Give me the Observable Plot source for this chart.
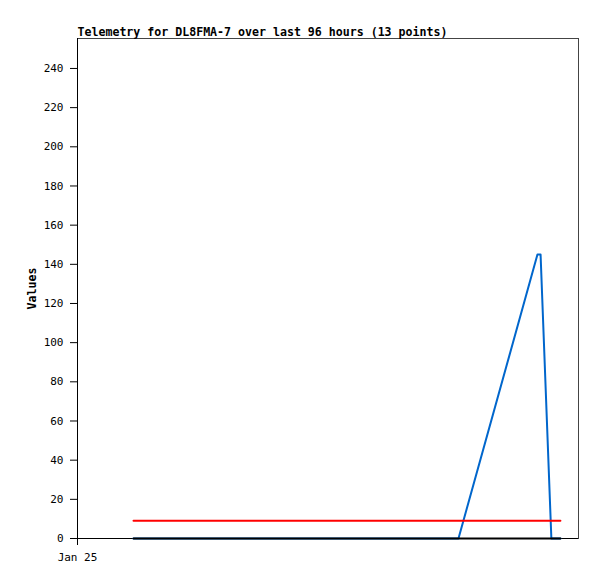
<!DOCTYPE html>
<html><head><meta charset="utf-8">
<script src="https://cdn.jsdelivr.net/npm/d3@7"></script>
<script src="https://cdn.jsdelivr.net/npm/@observablehq/plot@0.6"></script>
<style>body{margin:0;background:#fff}</style>
</head><body><div id="chart"></div>
<script>
const title = "Telemetry for DL8FMA-7 over last 96 hours (13 points)";
const yLabel = "Values";
const times = ["2025-01-25T02:41","2025-01-25T05:00","2025-01-25T07:30","2025-01-25T10:00","2025-01-25T12:30","2025-01-25T15:00","2025-01-25T17:00","2025-01-25T18:15","2025-01-25T22:02","2025-01-25T22:11","2025-01-25T22:42","2025-01-25T22:55","2025-01-25T23:08"];
const seriesBlue = [0,0,0,0,0,0,0,0,145,145,0,0,0];
const seriesRed = [9,9,9,9,9,9,9,9,9,9,9,9,9];
const seriesBlack = [0,0,0,0,0,0,0,0,0,0,0,0,0];
const yTicks = [0,20,40,60,80,100,120,140,160,180,200,220,240];
const xTickLabels = ["Jan 25"];
const xTicks = [new Date("2025-01-25T00:00")];
const xDomain = [new Date("2025-01-25T00:00"), new Date("2025-01-26T00:00")];

const parse = s => new Date(s);
const mk = (vals, key) => times.map((t, i) => ({t: parse(t), v: vals[i], s: key}));
const blue = mk(seriesBlue, "blue");
const red = mk(seriesRed, "red");
const black = mk(seriesBlack, "black");

const font = "'DejaVu Sans Mono', 'Liberation Mono', monospace";
const chart = Plot.plot({
  width: 597, height: 579,
  marginLeft: 77, marginRight: 19, marginTop: 38, marginBottom: 41,
  style: {fontFamily: font, fontSize: "11px", color: "#000", background: "#fff"},
  x: {type: "time", domain: xDomain},
  y: {domain: [0, 255.3]},
  marks: [
    Plot.frame({stroke: "#444", strokeWidth: 1}),
    Plot.axisY({ticks: yTicks, tickSize: 7, tickPadding: 7, label: null, stroke: "#000", fontSize: 11}),
    Plot.axisX({ticks: xTicks, tickFormat: (d, i) => xTickLabels[i], tickSize: 7, tickPadding: 8, label: null, fontSize: 11}),
    Plot.ruleX([xDomain[0]], {stroke: "#000", strokeWidth: 1}),
    Plot.ruleY([0], {stroke: "#000", strokeWidth: 1}),
    Plot.line(blue, {x: "t", y: "v", stroke: "#0066cc", strokeWidth: 2, curve: "linear"}),
    Plot.line(red, {x: "t", y: "v", stroke: "#ff0000", strokeWidth: 2}),
    Plot.line(black, {x: "t", y: "v", stroke: "#000", strokeWidth: 2}),
    Plot.text([title], {frameAnchor: "top-left", dy: -3, lineAnchor: "bottom", textAnchor: "start", fontWeight: "bold", fontSize: 11.6}),
    Plot.text([yLabel], {frameAnchor: "left", dx: -45, rotate: -90, textAnchor: "middle", fontWeight: "bold", fontSize: 11.6})
  ]
});
document.getElementById("chart").append(chart);
</script></body></html>
